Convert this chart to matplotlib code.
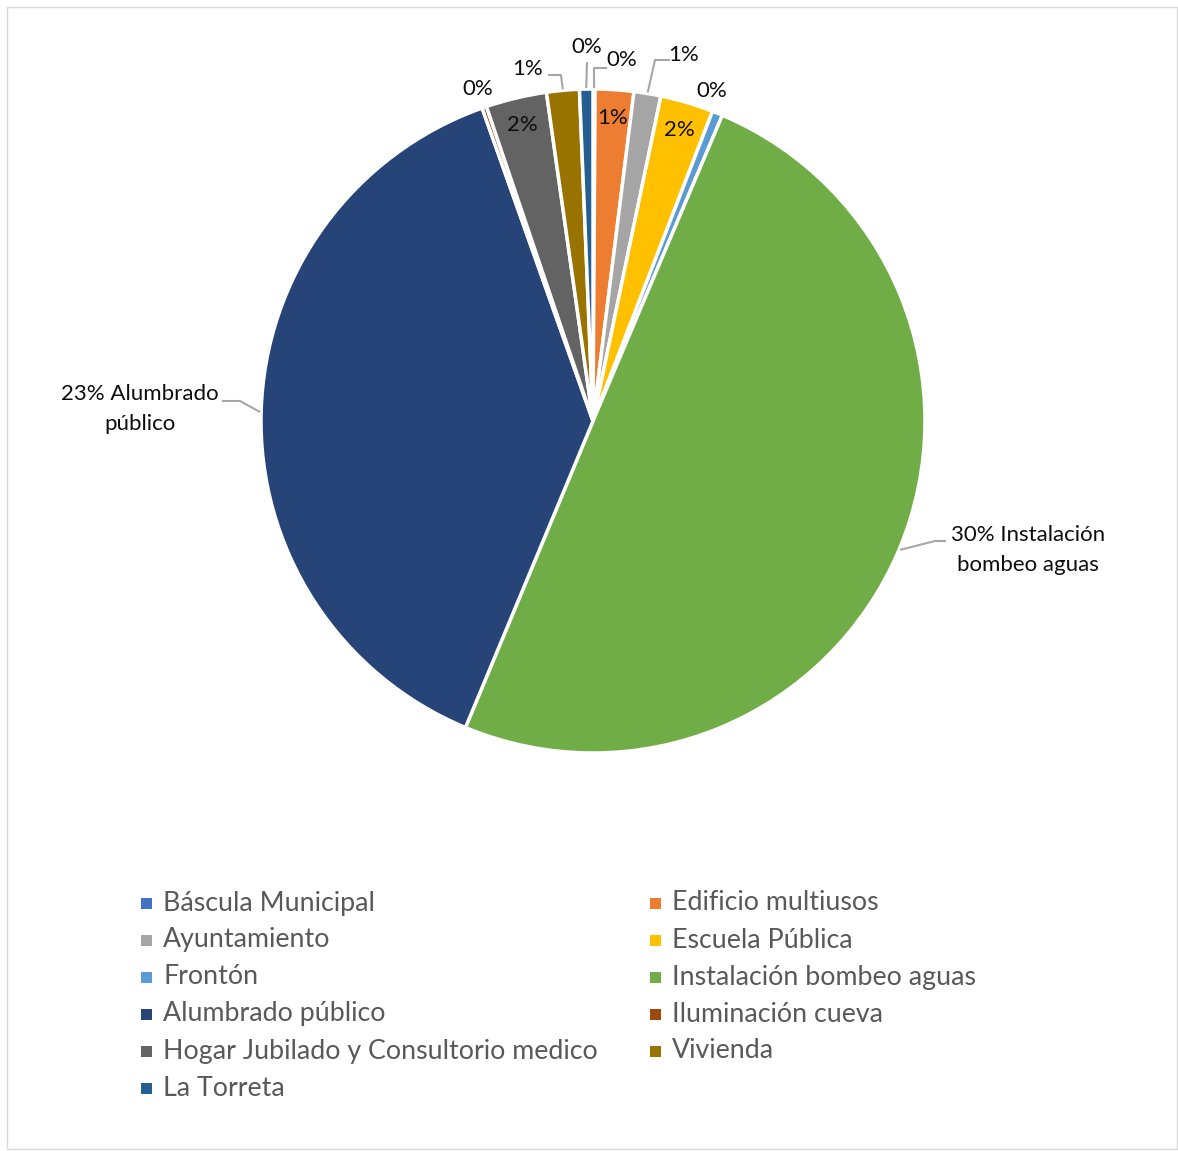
import numpy as np
import matplotlib
matplotlib.use("Agg")
import matplotlib.pyplot as plt
from matplotlib.patches import Rectangle

# ---------------- data ----------------
categories = ["Báscula Municipal", "Edificio multiusos", "Ayuntamiento", "Escuela Pública",
              "Frontón", "Instalación bombeo aguas", "Alumbrado público", "Iluminación cueva",
              "Hogar Jubilado y Consultorio medico", "Vivienda", "La Torreta"]
shares = [0.10, 1.87, 1.31, 2.58, 0.51, 49.9, 38.3, 0.22, 2.96, 1.59, 0.65]
label_texts = ["0%", "1%", "1%", "2%", "0%", "30% Instalación\nbombeo aguas",
               "23% Alumbrado\npúblico", "0%", "2%", "1%", "0%"]
colors = ["#4472C4", "#ED7D31", "#A5A5A5", "#FFC000", "#5B9BD5", "#70AD47",
          "#264478", "#9E480E", "#636363", "#997300", "#255E91"]

# ---------------- layout ----------------
W, H = 1178, 1151
FONT = "Lato"
fig = plt.figure(figsize=(W / 100, H / 100), dpi=100)
ax = fig.add_axes([0, 0, 1, 1])

cx, cy, R = 593, H - 421, 332
wedges, _ = ax.pie(shares, colors=colors, startangle=90, counterclock=False,
                   center=(cx, cy), radius=R,
                   wedgeprops=dict(edgecolor="white", linewidth=2.5))
ax.set_xlim(0, W)
ax.set_ylim(0, H)
ax.set_aspect("equal")
ax.axis("off")

# chart border
ax.add_patch(Rectangle((7, H - 1149), 1170, 1142, fill=False, edgecolor="#D9D9D9",
                       linewidth=1.0, clip_on=False))

# label placement: inside at fraction of R; otherwise text pos + leader elbow points
label_cfg = {
    0: dict(pos=(622, 60), path=[(607, 68), (594, 68)]),
    1: dict(inside=0.915),
    2: dict(pos=(684, 55), path=[(670, 60), (655, 60)]),
    3: dict(inside=0.915),
    4: dict(pos=(712, 91), path=None),
    5: dict(pos=(1028, 550), path=[(946, 541), (935, 541)]),
    6: dict(pos=(140, 409), path=[(222, 401), (240, 401)]),
    7: dict(pos=(478, 89), path=None),
    8: dict(inside=0.915),
    9: dict(pos=(528, 69), path=[(548, 75), (561, 75)]),
    10: dict(pos=(587, 47), path=[(587, 62)]),
}

txt_col = "#0D0D0D"
for i, w in enumerate(wedges):
    mid = np.deg2rad((w.theta1 + w.theta2) / 2)
    cfg = label_cfg[i]
    if "inside" in cfg:
        r = cfg["inside"] * R
        ax.text(cx + r * np.cos(mid), cy + r * np.sin(mid), label_texts[i],
                ha="center", va="center", fontsize=16, family=FONT, color=txt_col)
        continue
    px, py = cfg["pos"]
    ax.text(px, H - py, label_texts[i], ha="center", va="center", fontsize=16,
            family=FONT, color=txt_col, linespacing=1.6)
    if cfg["path"]:
        pts = [(x, H - y) for x, y in cfg["path"]]
        rim = (cx + (R + 1) * np.cos(mid), cy + (R + 1) * np.sin(mid))
        pts.append(rim)
        xs, ys = zip(*pts)
        ax.plot(xs, ys, color="#A6A6A6", linewidth=1.5, solid_capstyle="butt")

# ---------------- legend (row-major, two columns) ----------------
leg_x = [141, 650]
leg_y0, leg_dy = 903, 37
for i, (name, col) in enumerate(zip(categories, colors)):
    c, row = i % 2, i // 2
    x0 = leg_x[c]
    y = H - (leg_y0 + row * leg_dy)
    ax.add_patch(Rectangle((x0, y - 5.5), 11, 11, facecolor=col, edgecolor="none"))
    ax.text(x0 + 22, y, name, ha="left", va="center", fontsize=19.3, family=FONT,
            color="#595959")

fig.savefig("out.png", dpi=100)
